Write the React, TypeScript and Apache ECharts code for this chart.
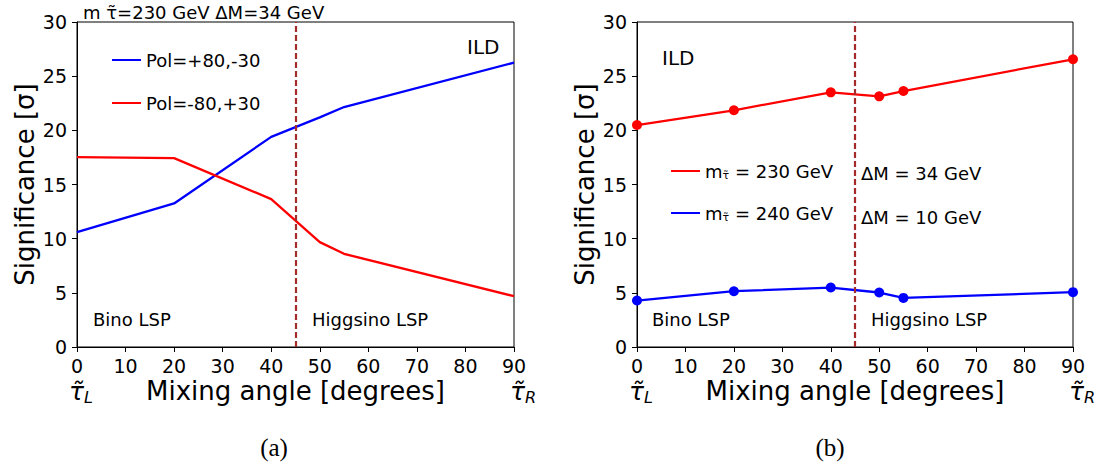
import React, { useEffect, useRef } from "react";
import * as echarts from "echarts";

// ---- data ----
const angles = [0, 20, 40, 50, 55, 90];
const polPlus = [10.6, 13.25, 19.4, 21.2, 22.15, 26.25];
const polMinus = [17.53, 17.44, 13.65, 9.68, 8.6, 4.69];
const m230 = [20.49, 21.85, 23.51, 23.14, 23.63, 26.56];
const m240 = [4.29, 5.15, 5.49, 5.03, 4.53, 5.06];
const boundaryAngle = 45;
const xMin = 0, xMax = 90, xStep = 10;
const yMin = 0, yMax = 30, yStep = 5;

const nameLeftA = "Pol=+80,-30";
const nameLeftB = "Pol=-80,+30";
const nameRightA = "m230";
const nameRightB = "m240";
const legendLabels: Record<string, string> = {
  m230: "{a|m}{s|τ̃}{a| = 230 GeV}",
  m240: "{a|m}{s|τ̃}{a| = 240 GeV}",
};

const FONT = "'DejaVu Sans', sans-serif";
const BLUE = "#0000ff";
const RED = "#ff0000";
const BROWN = "#a52a2a";
const TICK_FS = 19;

const pairs = (ys: number[]) => angles.map((a, i) => [a, ys[i]]);

function xAxisCfg(gridIndex: number) {
  return {
    type: "value",
    gridIndex,
    min: xMin,
    max: xMax,
    interval: xStep,
    name: "Mixing angle [degrees]",
    nameLocation: "middle",
    nameGap: 31,
    nameMoveOverlap: false,
    nameTextStyle: { fontSize: 26, color: "#000", fontFamily: FONT },
    axisLine: { show: true, onZero: false, lineStyle: { color: "#000", width: 1 } },
    axisTick: { show: true, inside: false, length: 5, lineStyle: { color: "#000" } },
    splitLine: { show: false },
    axisLabel: {
      margin: 8,
      color: "#000",
      fontSize: TICK_FS,
      fontFamily: FONT,
      formatter: (v: number) =>
        v === xMin
          ? `{n|${v}}\n{tl|τ̃}{s|L}`
          : v === xMax
          ? `{n|${v}}\n{tr|τ̃}{s|R}`
          : `{n|${v}}`,
      rich: {
        n: { fontSize: TICK_FS, lineHeight: 22, fontFamily: FONT, color: "#000" },
        tl: { fontSize: 25, fontStyle: "italic", lineHeight: 28, fontFamily: FONT, color: "#000", padding: [0, 0, 0, 8] },
        tr: { fontSize: 25, fontStyle: "italic", lineHeight: 28, fontFamily: FONT, color: "#000", padding: [0, 0, 0, 18] },
        s: { fontSize: 16, fontStyle: "italic", lineHeight: 28, fontFamily: FONT, color: "#000", verticalAlign: "bottom" },
      },
    },
  };
}

function yAxisCfg(gridIndex: number) {
  return {
    type: "value",
    gridIndex,
    min: yMin,
    max: yMax,
    interval: yStep,
    name: "Significance [σ]",
    nameLocation: "middle",
    nameGap: 39,
    nameMoveOverlap: false,
    nameTextStyle: { fontSize: 26, color: "#000", fontFamily: FONT },
    axisLine: { show: true, onZero: false, lineStyle: { color: "#000", width: 1 } },
    axisTick: { show: true, inside: false, length: 5, lineStyle: { color: "#000" } },
    splitLine: { show: false },
    axisLabel: { margin: 10, color: "#000", fontSize: TICK_FS, fontFamily: FONT },
  };
}

const markLine = {
  silent: true,
  symbol: "none",
  label: { show: false },
  lineStyle: { color: BROWN, type: [6, 3], width: 2.2 },
  data: [{ xAxis: boundaryAngle }],
  z: 5,
};

function txt(text: string, x: number, y: number, fontSize = 18, align = "left", family = FONT) {
  return {
    type: "text",
    x,
    y,
    style: {
      text,
      fill: "#000",
      fontSize,
      fontFamily: family,
      textAlign: align,
      textVerticalAlign: "middle",
      verticalAlign: "middle",
    },
  };
}

export default function App() {
  const ref = useRef<HTMLDivElement>(null);
  useEffect(() => {
    if (!ref.current) return;
    const chart = echarts.init(ref.current, undefined, { renderer: "svg" });
    const legendText = { fontSize: 18, color: "#000", fontFamily: FONT, lineHeight: 20 };
    chart.setOption({
      animation: false,
      backgroundColor: "#fff",
      grid: [
        { left: 77, top: 22, width: 437, height: 325, show: true, borderColor: "#000", borderWidth: 1, backgroundColor: "transparent" },
        { left: 637, top: 22, width: 436, height: 325, show: true, borderColor: "#000", borderWidth: 1, backgroundColor: "transparent" },
      ],
      xAxis: [xAxisCfg(0), xAxisCfg(1)],
      yAxis: [yAxisCfg(0), yAxisCfg(1)],
      legend: [
        {
          data: [nameLeftA, nameLeftB],
          orient: "vertical",
          left: 107,
          top: 45,
          itemWidth: 29,
          itemHeight: 2,
          itemGap: 23,
          icon: "rect",
          textStyle: legendText,
        },
        {
          data: [nameRightA, nameRightB],
          orient: "vertical",
          left: 666,
          top: 156,
          itemWidth: 29,
          itemHeight: 2,
          itemGap: 22,
          icon: "rect",
          formatter: (n: string) => legendLabels[n] || n,
          textStyle: {
            ...legendText,
            rich: {
              a: { fontSize: 18, color: "#000", fontFamily: FONT, lineHeight: 20 },
              s: { fontSize: 11, color: "#000", fontFamily: FONT, padding: [8, 0, 0, 0] },
            },
          },
        },
      ],
      series: [
        {
          name: nameLeftA, type: "line", xAxisIndex: 0, yAxisIndex: 0,
          data: pairs(polPlus), showSymbol: false, symbol: "none",
          lineStyle: { color: BLUE, width: 2.3 }, itemStyle: { color: BLUE },
          markLine,
        },
        {
          name: nameLeftB, type: "line", xAxisIndex: 0, yAxisIndex: 0,
          data: pairs(polMinus), showSymbol: false, symbol: "none",
          lineStyle: { color: RED, width: 2.3 }, itemStyle: { color: RED },
        },
        {
          name: nameRightA, type: "line", xAxisIndex: 1, yAxisIndex: 1,
          data: pairs(m230), symbol: "circle", symbolSize: 10,
          lineStyle: { color: RED, width: 2.3 }, itemStyle: { color: RED },
          markLine,
        },
        {
          name: nameRightB, type: "line", xAxisIndex: 1, yAxisIndex: 1,
          data: pairs(m240), symbol: "circle", symbolSize: 10,
          lineStyle: { color: BLUE, width: 2.3 }, itemStyle: { color: BLUE },
        },
      ],
      graphic: [
        txt("m τ̃=230 GeV ΔM=34 GeV", 83, 12),
        txt("ILD", 467, 47, 20),
        txt("ILD", 662, 58, 20),
        txt("Bino LSP", 93, 319),
        txt("Higgsino LSP", 312, 319),
        txt("Bino LSP", 652, 319),
        txt("Higgsino LSP", 871, 319),
        txt("ΔM = 34 GeV", 861, 173),
        txt("ΔM = 10 GeV", 861, 217),
        txt("(a)", 274, 447, 25, "center", "'Liberation Serif', serif"),
        txt("(b)", 830, 447, 25, "center", "'Liberation Serif', serif"),
      ],
    });
    return () => chart.dispose();
  }, []);
  return (
    <div
      ref={ref}
      style={{ position: "absolute", left: 0, top: 0, width: 1099, height: 466 }}
    />
  );
}
